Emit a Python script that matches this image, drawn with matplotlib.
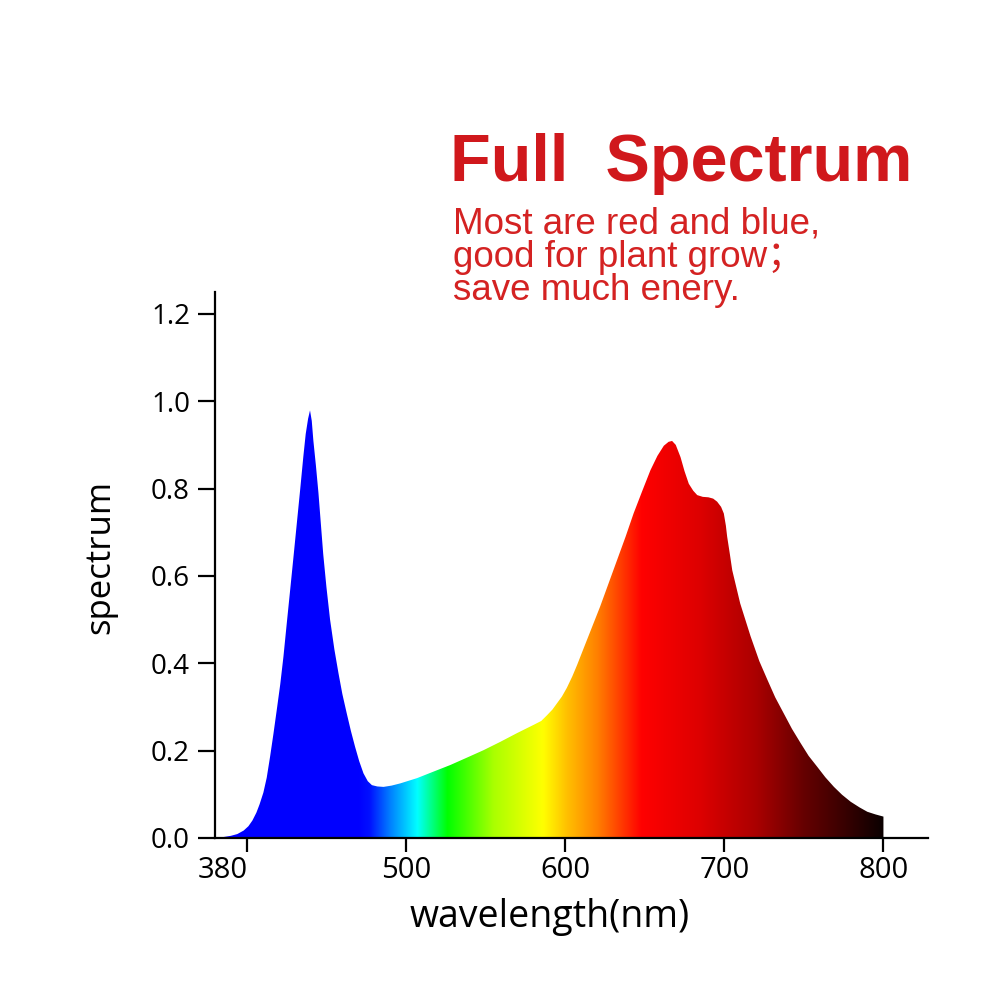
import numpy as np
import matplotlib
matplotlib.use("Agg")
import matplotlib.pyplot as plt
from matplotlib.colors import LinearSegmentedColormap
from matplotlib.patches import Polygon

# ---------------- data ----------------
wavelength = [380, 385, 390, 394, 398, 401, 403.5, 406, 408, 410.4, 412.5, 414.6,
              416.7, 418.8, 421, 423, 425, 427.2, 429.3, 431.4, 433.5, 435.5, 437,
              438.5, 439.7, 440.8, 441.8, 443.4, 445, 448, 450, 452.3, 455, 457.6,
              460, 462.8, 465.4, 468, 470.6, 473.3, 476, 478.6, 482, 485.9, 491,
              496.4, 506.9, 517.3, 527.8, 538.3, 548.7, 559.2, 569.7, 580.2, 585,
              588.6, 592, 594.8, 598, 601.1, 604.5, 607.5, 611.6, 616.8, 622, 627.3,
              632.6, 638, 643, 648.3, 653.6, 658, 662, 665, 667.2, 669.5, 672.5, 675,
              677.7, 680.5, 683, 686.5, 690, 693, 695.5, 698, 699.7, 701, 701.8,
              703.5, 705, 710, 716.5, 722, 727, 732, 737.4, 742.5, 748, 753, 758.4,
              763.5, 768.9, 774, 779.4, 785, 789.9, 795, 800]
spectrum = [0.000, 0.002, 0.005, 0.009, 0.017, 0.027, 0.040, 0.058, 0.077, 0.104,
            0.138, 0.186, 0.238, 0.293, 0.352, 0.415, 0.488, 0.567, 0.643,
            0.720, 0.797, 0.873, 0.925, 0.960, 0.979, 0.955, 0.910, 0.853, 0.790,
            0.650, 0.575, 0.500, 0.432, 0.377, 0.330, 0.285, 0.245, 0.209, 0.176,
            0.148, 0.130, 0.121, 0.118, 0.117, 0.120, 0.125, 0.137, 0.152, 0.167,
            0.184, 0.201, 0.220, 0.240, 0.259, 0.268, 0.281, 0.294, 0.308, 0.324,
            0.344, 0.370, 0.396, 0.434, 0.482, 0.530, 0.583, 0.636, 0.690, 0.743,
            0.793, 0.842, 0.875, 0.898, 0.907, 0.909, 0.900, 0.872, 0.840, 0.811,
            0.795, 0.785, 0.781, 0.780, 0.777, 0.770, 0.758, 0.743, 0.715, 0.690,
            0.650, 0.613, 0.537, 0.462, 0.405, 0.363, 0.322, 0.285, 0.250, 0.217,
            0.188, 0.163, 0.139, 0.117, 0.099, 0.083, 0.070, 0.060, 0.054, 0.049]

xtick_values = [400, 500, 600, 700, 800]
xtick_labels = ["", "500", "600", "700", "800"]
first_label = "380"
ytick_values = [0.0, 0.2, 0.4, 0.6, 0.8, 1.0, 1.2]

title = "Full  Spectrum"
subtitle_lines = ["Most are red and blue,", "good for plant grow\uff1b", "save much enery."]
xlabel = "wavelength(nm)"
ylabel = "spectrum"

# colour gradient stops along the wavelength axis (style)
stop_nm = [380, 470, 477, 490, 507, 526, 555, 586, 601, 620, 648, 685, 720, 750, 780, 800]
stop_col = ["#0000ff", "#0000ff", "#0010ff", "#0080ff", "#00ffff", "#00ff00", "#aaff00",
            "#ffff00", "#ffc000", "#ff8000", "#ff0000", "#dd0000", "#aa0000", "#650000",
            "#300000", "#0a0000"]

# ---------------- figure ----------------
fig = plt.figure(figsize=(10, 10), dpi=100)
ax = fig.add_axes([0.215, 0.162, 0.713, 0.546])

lo, hi = min(wavelength), max(wavelength)
cmap = LinearSegmentedColormap.from_list(
    "spec", [((n - lo) / (hi - lo), c) for n, c in zip(stop_nm, stop_col)], N=1024)
grad = np.linspace(0, 1, 1024)[np.newaxis, :]
im = ax.imshow(grad, extent=[lo, hi, 0, 1.25], aspect="auto", cmap=cmap,
               origin="lower", interpolation="bilinear", zorder=1)

verts = [(lo, 0)] + list(zip(wavelength, spectrum)) + [(hi, 0)]
poly = Polygon(verts, closed=True, facecolor="none", edgecolor="none",
               transform=ax.transData)
ax.add_patch(poly)
im.set_clip_path(poly)

ax.set_xlim(380, 828)
ax.set_ylim(0, 1.25)

for s in ["top", "right"]:
    ax.spines[s].set_visible(False)
for s in ["left", "bottom"]:
    ax.spines[s].set_linewidth(1.6)
    ax.spines[s].set_zorder(5)

tick_font = dict(family=["Open Sans", "DejaVu Sans"])
ax.set_xticks(xtick_values)
ax.set_xticklabels(xtick_labels, fontsize=21, **tick_font)
ax.set_xticks([385], minor=True)
ax.set_xticklabels([first_label], minor=True, fontsize=21, **tick_font)
ax.tick_params(axis="x", which="major", direction="out", length=10, width=1.6, pad=3)
ax.tick_params(axis="x", which="minor", length=0, pad=13)

ax.set_yticks(ytick_values)
ax.set_yticklabels([f"{v:.1f}" for v in ytick_values], fontsize=20, **tick_font)
ax.tick_params(axis="y", direction="out", length=12, width=1.6, pad=6)

fig.text(0.550, 1 - 0.927, xlabel, ha="center", va="baseline", fontsize=27,
         family=["Open Sans", "DejaVu Sans"])
fig.text(0.100, 1 - 0.557, ylabel, ha="center", va="center", rotation=90,
         fontsize=25, family=["Open Sans", "DejaVu Sans"])

fig.text(0.450, 1 - 0.181, title, ha="left", va="baseline", fontsize=48,
         fontweight="bold", color="#d0181c", family=["Liberation Sans", "DejaVu Sans"])
for i, line in enumerate(subtitle_lines):
    fig.text(0.453, 1 - (0.234 + 0.033 * i), line, ha="left", va="baseline",
             fontsize=26.5, color="#d42222",
             family=["Liberation Sans", "Noto Sans CJK SC", "DejaVu Sans"])

fig.savefig("out.png", dpi=100, facecolor="white")
